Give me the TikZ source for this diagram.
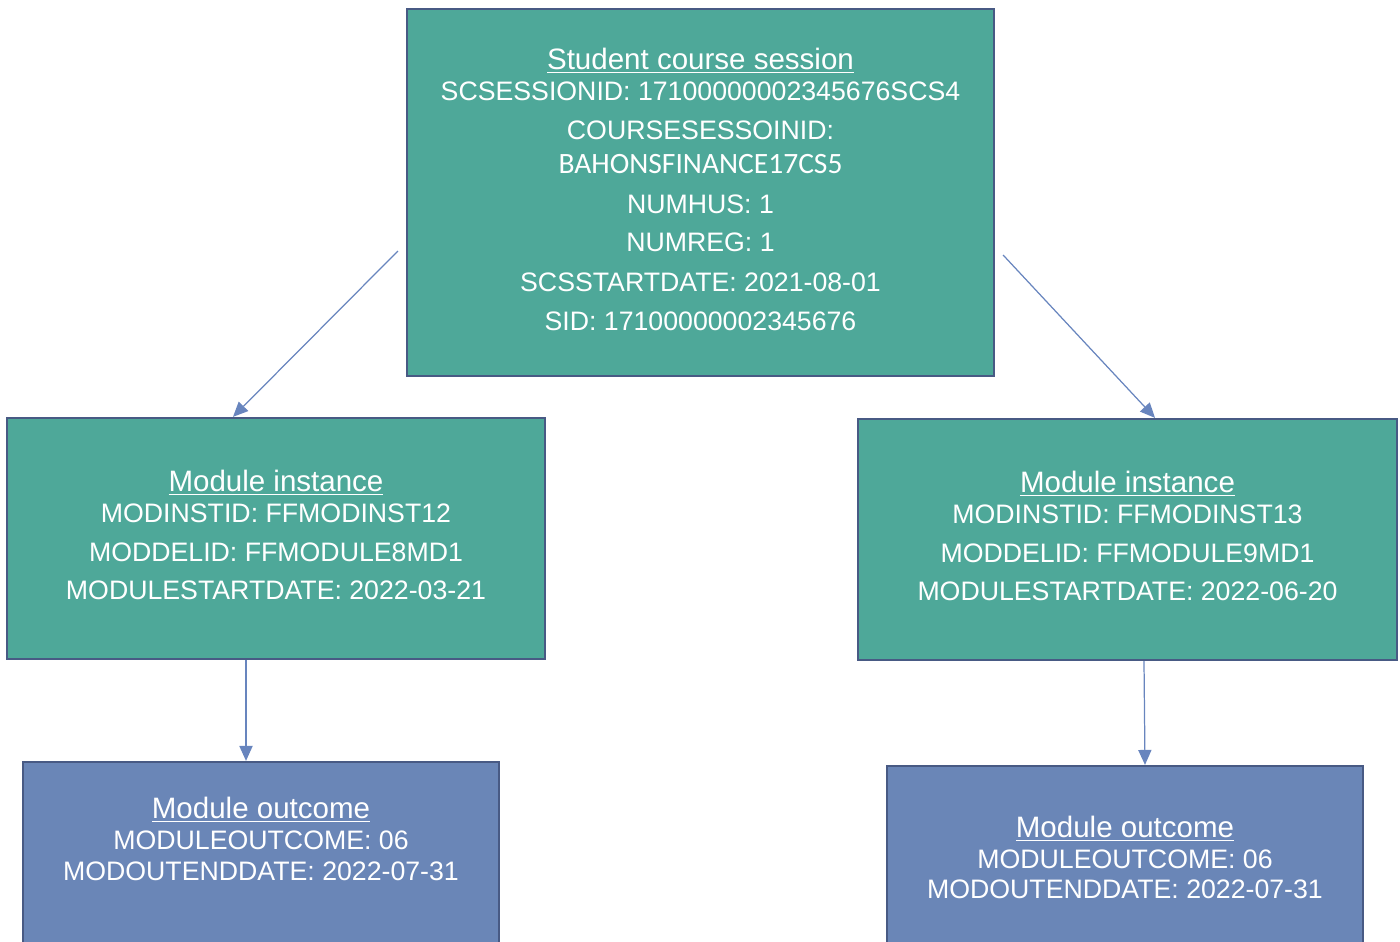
\documentclass[tikz,border=0pt]{standalone}
\usepackage{fontspec}
\setmainfont{Liberation Sans}
\newfontfamily\calibrifont{Carlito}
\usepackage{tikz}
\usetikzlibrary{arrows.meta,calc}
\definecolor{boxteal}{RGB}{78,168,153}
\definecolor{boxblue}{RGB}{106,134,183}
\definecolor{boxedge}{RGB}{72,90,132}
\definecolor{linkblue}{RGB}{104,133,190}
\newcommand{\boxtitle}[1]{\underline{\fontsize{16.8}{17.6}\selectfont #1}}

\begin{document}
\begin{tikzpicture}[x=0.02cm, y=-0.02cm,
    tealbox/.style={draw=boxedge, line width=1.3pt, fill=boxteal, text=white, align=center,
        inner sep=0pt, font={\fontsize{15.2}{17.6}\selectfont}},
    outbox/.style={draw=boxedge, line width=1.3pt, fill=boxblue, inner sep=0pt},
    linkarrow/.style={draw=linkblue, line width=0.7pt, -{Triangle[length=8.5pt,width=7.5pt]}}]
    \useasboundingbox (0,0) rectangle (1400,942);
    \clip (0,0) rectangle (1400,942);

    % student course session
    \node[tealbox, minimum width=11.74cm, minimum height=7.34cm] (session) at (700.5,192.5)
        {\boxtitle{Student course session}\\
         SCSESSIONID: 17100000002345676SCS4\\[5pt]
         COURSESESSOINID:\\[1.7pt]
         {\calibrifont\fontsize{16.8}{17.6}\selectfont BAHONSFINANCE17CS5}\\[5pt]
         NUMHUS: 1\\[4pt]
         NUMREG: 1\\[5pt]
         SCSSTARTDATE: 2021-08-01\\[4.5pt]
         SID: 17100000002345676\rule[-4pt]{0pt}{0pt}};

    % module instances
    \node[tealbox, minimum width=10.76cm, minimum height=4.82cm] (linst) at (276,538.5)
        {\boxtitle{Module instance}\\
         MODINSTID: FFMODINST12\\[4.5pt]
         MODDELID: FFMODULE8MD1\\[4pt]
         MODULESTARTDATE: 2022-03-21\rule[-4pt]{0pt}{0pt}};
    \node[tealbox, minimum width=10.78cm, minimum height=4.82cm] (rinst) at (1127.5,539.5)
        {\boxtitle{Module instance}\\
         MODINSTID: FFMODINST13\\[4.5pt]
         MODDELID: FFMODULE9MD1\\[4pt]
         MODULESTARTDATE: 2022-06-20\rule[-4pt]{0pt}{0pt}};

    % module outcomes
    \node[outbox, minimum width=9.52cm, minimum height=6cm] (lout) at (261,912) {};
    \node[tealbox, draw=none, fill=none] (louttext) at (261,839)
        {\boxtitle{Module outcome}\\
         MODULEOUTCOME: 06\\
         MODOUTENDDATE: 2022-07-31};
    \node[outbox, minimum width=9.52cm, minimum height=6cm] (rout) at (1125,916) {};
    \node[tealbox, draw=none, fill=none] (routtext) at (1125,857.5)
        {\boxtitle{Module outcome}\\
         MODULEOUTCOME: 06\\
         MODOUTENDDATE: 2022-07-31};

    % links
    \coordinate (ltail) at ($(session.west)+(-8,58.5)$);
    \coordinate (rtail) at ($(session.east)+(8,62.5)$);
    \draw[linkarrow] (ltail) -- ($(linst.north)+(-43,0)$);
    \draw[linkarrow] (rtail) -- ($(rinst.north)+(27.5,0)$);
    \draw[linkarrow] ($(linst.south)+(-30,0)$) -- ($(lout.north)+(-15,0)$);
    \draw[linkarrow] ($(rinst.south)+(16.5,0)$) -- ($(rout.north)+(20,0)$);
\end{tikzpicture}
\end{document}
